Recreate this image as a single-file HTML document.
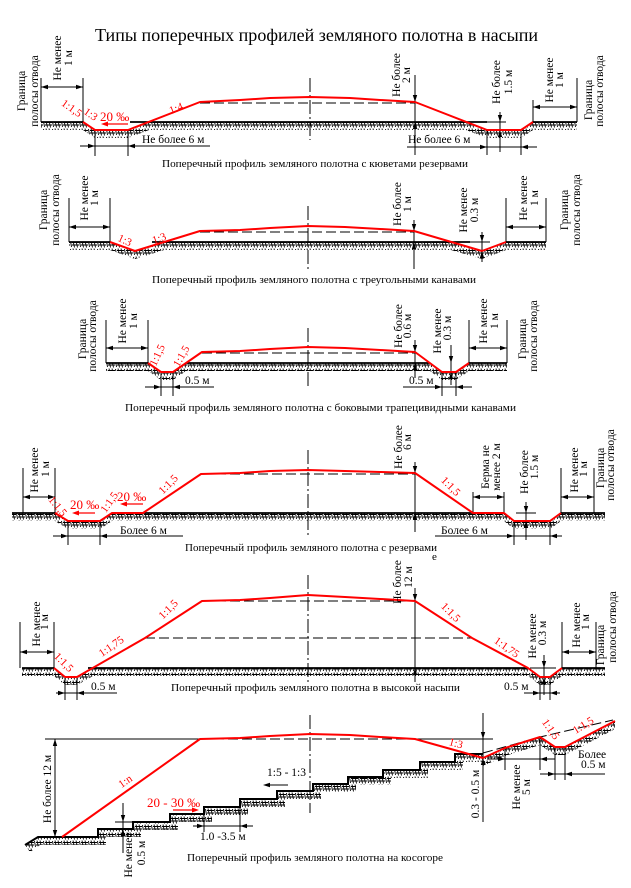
<!DOCTYPE html>
<html><head><meta charset="utf-8"><style>
html,body{margin:0;padding:0;background:#fff}
svg{display:block}
text{font-family:"Liberation Serif","DejaVu Serif",serif;font-size:11.5px;fill:#000}
.r{fill:#f00;font-size:11px}
.p{fill:#f00;font-size:13px}
.c{font-size:11px}
.k{stroke:#000;stroke-width:1;fill:none}
.g{stroke:#000;stroke-width:1.8;fill:none}
.rd{stroke:#f00;stroke-width:2;fill:none;stroke-linejoin:round}
.rl{stroke:#f00;stroke-width:1.2;fill:none}
.d{stroke:#000;stroke-width:1;fill:none;stroke-dasharray:10 4}
.cl{stroke:#000;stroke-width:1;fill:none;stroke-dasharray:14 3 2 3}
.h{fill:url(#h);stroke:none}
</style></head><body>
<svg width="631" height="888" viewBox="0 0 631 888" xmlns="http://www.w3.org/2000/svg">
<defs>
<pattern id="h" width="9" height="8" patternUnits="userSpaceOnUse"><path d="M1,0.5 L2.5,7.5 M4,0.5 L5.5,7.5 M0,2.5 H7 M0,5 H7 M7.5,1 L8.5,7" stroke="#000" stroke-width="0.9" fill="none"/></pattern>
<path id="a" d="M0,0 L-7,-2.2 L-7,2.2 Z" fill="#000"/>
<path id="ar" d="M0,0 L-7,-2.5 L-7,2.5 Z" fill="#f00"/>
</defs>
<rect width="631" height="888" fill="#fff"/>

<text x="95" y="41" style="font-size:18px" textLength="443" lengthAdjust="spacingAndGlyphs">Типы поперечных профилей земляного полотна в насыпи</text>

<!-- SECTION 1 -->
<polygon class="h" points="41,122 83,122 95,130 128,130 149,122 466,122 487,130 521,130 533,122 577,122 577,130 533,130 521,138 487,138 466,130 149,130 128,138 95,138 83,130 41,130"/>
<path class="g" d="M41,122H83M130,122H487M533,122H577"/>
<path class="k" d="M41,78V122M83,78V122M533,100V122M577,78V122M41,87H83M533,107H577M80,146H210M95,130V156M128,130V156M407,147H537M487,130V155M521,130V155M415,75V155M500,112V152M484,122H506"/>
<path class="d" d="M200,103H415"/>
<path class="cl" d="M310,78V140"/>
<polyline class="rd" points="83,122 95,130 128,130 200,102 240,100 270,98 310,97 350,98 380,100 415,102 487,130 521,130 533,122"/>
<use href="#a" transform="translate(41 87) rotate(180)"/><use href="#a" transform="translate(83 87)"/>
<use href="#a" transform="translate(533 107) rotate(180)"/><use href="#a" transform="translate(577 107)"/>
<use href="#a" transform="translate(95 146)"/><use href="#a" transform="translate(128 146) rotate(180)"/>
<use href="#a" transform="translate(487 147)"/><use href="#a" transform="translate(521 147) rotate(180)"/>
<use href="#a" transform="translate(415 102) rotate(90)"/><use href="#a" transform="translate(415 122) rotate(-90)"/>
<use href="#a" transform="translate(500 122) rotate(90)"/><use href="#a" transform="translate(500 130) rotate(-90)"/>
<text transform="translate(25 91) rotate(-90)" text-anchor="middle">Граница</text>
<text transform="translate(38 91) rotate(-90)" text-anchor="middle">полосы отвода</text>
<text transform="translate(61 58) rotate(-90)" text-anchor="middle">Не менее</text>
<text transform="translate(72 58) rotate(-90)" text-anchor="middle">1 м</text>
<text transform="translate(400 75) rotate(-90)" text-anchor="middle">Не более</text>
<text transform="translate(410 75) rotate(-90)" text-anchor="middle">2 м</text>
<text transform="translate(500 82) rotate(-90)" text-anchor="middle">Не более</text>
<text transform="translate(512 82) rotate(-90)" text-anchor="middle">1.5 м</text>
<text transform="translate(553 80) rotate(-90)" text-anchor="middle">Не менее</text>
<text transform="translate(563 80) rotate(-90)" text-anchor="middle">1 м</text>
<text transform="translate(592 100) rotate(-90)" text-anchor="middle">Граница</text>
<text transform="translate(603 91) rotate(-90)" text-anchor="middle">полосы отвода</text>
<text x="142" y="143">Не более 6 м</text>
<text x="408" y="143">Не более 6 м</text>
<text class="r" transform="translate(72 108) rotate(35)" text-anchor="middle" dy="0.35em">1:1,5</text>
<text class="r" transform="translate(91 114) rotate(35)" text-anchor="middle" dy="0.35em">1:3</text>
<text class="p" x="100" y="121">20 ‰</text>
<path class="rl" d="M104,124H128"/><use href="#ar" transform="translate(101 124) rotate(180)"/>
<text class="r" transform="translate(176 108) rotate(-22)" text-anchor="middle" dy="0.35em">1:4</text>
<text class="c" x="162" y="167" textLength="306" lengthAdjust="spacingAndGlyphs">Поперечный профиль земляного полотна с кюветами резервами</text>

<!-- SECTION 2 -->
<polygon class="h" points="69,242 110,242 135,251 164,242 451,242 482,251 506,242 546,242 546,250 506,250 482,259 451,250 164,250 135,259 110,250 69,250"/>
<path class="g" d="M69,242H110M152,242H470M506,242H546"/>
<path class="k" d="M69,198V242M110,198V242M506,198V242M546,198V242M69,227H110M506,227H546M414,220V269M482,232V262M466,242H490"/>
<path class="d" d="M200,232H414"/>
<path class="cl" d="M308,206V269"/>
<polyline class="rd" points="110,242 135,251 200,231 240,230 270,228 308,226 345,227 380,229 414,231 482,251 506,242"/>
<use href="#a" transform="translate(69 227) rotate(180)"/><use href="#a" transform="translate(110 227)"/>
<use href="#a" transform="translate(506 227) rotate(180)"/><use href="#a" transform="translate(546 227)"/>
<use href="#a" transform="translate(414 231) rotate(90)"/><use href="#a" transform="translate(414 242) rotate(-90)"/>
<use href="#a" transform="translate(482 242) rotate(90)"/><use href="#a" transform="translate(482 251) rotate(-90)"/>
<text transform="translate(47 210) rotate(-90)" text-anchor="middle">Граница</text>
<text transform="translate(59 210) rotate(-90)" text-anchor="middle">полосы отвода</text>
<text transform="translate(88 198) rotate(-90)" text-anchor="middle">Не менее</text>
<text transform="translate(98 198) rotate(-90)" text-anchor="middle">1 м</text>
<text transform="translate(401 204) rotate(-90)" text-anchor="middle">Не более</text>
<text transform="translate(411 204) rotate(-90)" text-anchor="middle">1 м</text>
<text transform="translate(467 210) rotate(-90)" text-anchor="middle">Не менее</text>
<text transform="translate(478 210) rotate(-90)" text-anchor="middle">0.3 м</text>
<text transform="translate(527 198) rotate(-90)" text-anchor="middle">Не менее</text>
<text transform="translate(538 198) rotate(-90)" text-anchor="middle">1 м</text>
<text transform="translate(568 210) rotate(-90)" text-anchor="middle">Граница</text>
<text transform="translate(580 210) rotate(-90)" text-anchor="middle">полосы отвода</text>
<text class="r" transform="translate(125 240) rotate(25)" text-anchor="middle" dy="0.35em">1:3</text>
<text class="r" transform="translate(159 238) rotate(-20)" text-anchor="middle" dy="0.35em">1:3</text>
<text class="c" x="152" y="283" textLength="324" lengthAdjust="spacingAndGlyphs">Поперечный профиль земляного полотна с треугольными канавами</text>

<!-- SECTION 3 -->
<polygon class="h" points="106,363 148,363 161,372 173,372 186,363 430,363 442,372 456,372 469,363 507,363 507,371 469,371 456,380 442,380 430,371 186,371 173,380 161,380 148,371 106,371"/>
<path class="g" d="M106,363H148M186,363H430M469,363H507"/>
<path class="k" d="M106,320V363M148,320V363M469,320V363M507,320V363M106,348H148M469,348H507M415,340V378M451,345V385M145,387H214M161,372V396M173,372V396M403,387H472M442,372V396M456,372V396"/>
<path class="d" d="M202,353H415"/>
<path class="cl" d="M308,328V389"/>
<polyline class="rd" points="148,363 161,372 173,372 202,352 240,351 270,349 308,347 345,348 380,350 415,352 442,372 456,372 469,363"/>
<use href="#a" transform="translate(106 348) rotate(180)"/><use href="#a" transform="translate(148 348)"/>
<use href="#a" transform="translate(469 348) rotate(180)"/><use href="#a" transform="translate(507 348)"/>
<use href="#a" transform="translate(415 352) rotate(90)"/><use href="#a" transform="translate(415 363) rotate(-90)"/>
<use href="#a" transform="translate(451 363) rotate(90)"/><use href="#a" transform="translate(451 372) rotate(-90)"/>
<use href="#a" transform="translate(161 387)"/><use href="#a" transform="translate(173 387) rotate(180)"/>
<use href="#a" transform="translate(442 387)"/><use href="#a" transform="translate(456 387) rotate(180)"/>
<text transform="translate(86 339) rotate(-90)" text-anchor="middle">Граница</text>
<text transform="translate(96 336) rotate(-90)" text-anchor="middle">полосы отвода</text>
<text transform="translate(126 321) rotate(-90)" text-anchor="middle">Не менее</text>
<text transform="translate(137 321) rotate(-90)" text-anchor="middle">1 м</text>
<text transform="translate(402 326) rotate(-90)" text-anchor="middle">Не более</text>
<text transform="translate(411 326) rotate(-90)" text-anchor="middle">0.6 м</text>
<text transform="translate(441 331) rotate(-90)" text-anchor="middle">Не менее</text>
<text transform="translate(451 328) rotate(-90)" text-anchor="middle">0.3 м</text>
<text transform="translate(487 321) rotate(-90)" text-anchor="middle">Не менее</text>
<text transform="translate(498 321) rotate(-90)" text-anchor="middle">1 м</text>
<text transform="translate(526 339) rotate(-90)" text-anchor="middle">Граница</text>
<text transform="translate(537 336) rotate(-90)" text-anchor="middle">полосы отвода</text>
<text x="185" y="384">0.5 м</text>
<text x="409" y="384">0.5 м</text>
<text class="r" transform="translate(157 355) rotate(-65)" text-anchor="middle" dy="0.35em">1:1,5</text>
<text class="r" transform="translate(181 356) rotate(-60)" text-anchor="middle" dy="0.35em">1:1,5</text>
<text class="c" x="125" y="411" textLength="391" lengthAdjust="spacingAndGlyphs">Поперечный профиль земляного полотна с боковыми трапецивидными канавами</text>

<!-- SECTION 4 -->
<polygon class="h" points="12,513 55,513 68,521 100,521 112,513 504,513 514,521 550,521 561,513 605,513 605,521 561,521 550,529 514,529 504,521 112,521 100,529 68,529 55,521 12,521"/>
<path class="g" d="M12,513H55M112,513H504M561,513H605"/>
<path class="k" d="M23,468V513M55,468V513M561,468V513M594,468V513M23,497H55M561,497H594M473,492V513M504,492V513M473,497H504M415,462V532M526,502V540M516,513H536M53,536H183M68,521V545M100,521V545M435,536H562M514,521V545M550,521V545"/>
<path class="d" d="M202,474H415"/>
<path class="cl" d="M308,450V538"/>
<polyline class="rd" points="55,513 68,521 100,521 112,513 143,513 201,474 240,473 270,471 308,470 345,471 380,472 415,473 473,513 504,513 514,521 550,521 561,513"/>
<use href="#a" transform="translate(23 497) rotate(180)"/><use href="#a" transform="translate(55 497)"/>
<use href="#a" transform="translate(561 497) rotate(180)"/><use href="#a" transform="translate(594 497)"/>
<use href="#a" transform="translate(473 497) rotate(180)"/><use href="#a" transform="translate(504 497)"/>
<use href="#a" transform="translate(415 473) rotate(90)"/><use href="#a" transform="translate(415 513) rotate(-90)"/>
<use href="#a" transform="translate(526 513) rotate(90)"/><use href="#a" transform="translate(526 521) rotate(-90)"/>
<use href="#a" transform="translate(68 536)"/><use href="#a" transform="translate(100 536) rotate(180)"/>
<use href="#a" transform="translate(514 536)"/><use href="#a" transform="translate(550 536) rotate(180)"/>
<text transform="translate(38 470) rotate(-90)" text-anchor="middle">Не менее</text>
<text transform="translate(49 469) rotate(-90)" text-anchor="middle">1 м</text>
<text transform="translate(402 447) rotate(-90)" text-anchor="middle">Не более</text>
<text transform="translate(411 442) rotate(-90)" text-anchor="middle">6 м</text>
<text transform="translate(489 467) rotate(-90)" text-anchor="middle">Берма не</text>
<text transform="translate(500 467) rotate(-90)" text-anchor="middle">менее 2 м</text>
<text transform="translate(528 472) rotate(-90)" text-anchor="middle">Не более</text>
<text transform="translate(538 467) rotate(-90)" text-anchor="middle">1.5 м</text>
<text transform="translate(578 470) rotate(-90)" text-anchor="middle">Не менее</text>
<text transform="translate(587 469) rotate(-90)" text-anchor="middle">1 м</text>
<text transform="translate(604 468) rotate(-90)" text-anchor="middle">Граница</text>
<text transform="translate(614 465) rotate(-90)" text-anchor="middle">полосы отвода</text>
<text x="120" y="534">Более 6 м</text>
<text x="441" y="534">Более 6 м</text>
<text class="r" transform="translate(58 506) rotate(50)" text-anchor="middle" dy="0.35em">1:1,5</text>
<text class="p" x="70" y="509">20 ‰</text>
<path class="rl" d="M75,513H95"/><use href="#ar" transform="translate(72 513) rotate(180)"/>
<text class="r" transform="translate(109 502) rotate(-55)" text-anchor="middle" dy="0.35em">1:1,5</text>
<text class="p" x="117" y="501">20 ‰</text>
<path class="rl" d="M123,504H143"/><use href="#ar" transform="translate(120 504) rotate(180)"/>
<text class="r" transform="translate(168 484) rotate(-45)" text-anchor="middle" dy="0.35em">1:1,5</text>
<text class="r" transform="translate(451 486) rotate(45)" text-anchor="middle" dy="0.35em">1:1,5</text>
<text class="c" x="185" y="551" textLength="252" lengthAdjust="spacingAndGlyphs">Поперечный профиль земляного полотна с резервами</text>
<text class="c" x="432" y="560">е</text>

<!-- SECTION 5 -->
<polygon class="h" points="22,668 54,668 65,677 77,677 93,668 528,668 540,677 550,677 562,668 605,668 605,676 562,676 550,685 540,685 528,676 93,676 77,685 65,685 54,676 22,676"/>
<path class="g" d="M22,668H54M88,668H528M562,668H605"/>
<path class="k" d="M20,622V668M54,622V668M562,622V668M596,622V668M20,652H54M562,652H596M415,588V682M544,655V695M530,668H556M56,693H117M65,677V700M77,677V700M524,693H560M540,677V700M550,677V700"/>
<path class="d" d="M202,601H415M145,638H472"/>
<path class="cl" d="M308,575V682"/>
<polyline class="rd" points="54,668 65,677 77,677 145,638 202,601 240,600 270,598 308,595 345,597 380,599 415,601 472,638 528,668 540,677 550,677 562,668"/>
<use href="#a" transform="translate(20 652) rotate(180)"/><use href="#a" transform="translate(54 652)"/>
<use href="#a" transform="translate(562 652) rotate(180)"/><use href="#a" transform="translate(596 652)"/>
<use href="#a" transform="translate(415 601) rotate(90)"/><use href="#a" transform="translate(415 668) rotate(-90)"/>
<use href="#a" transform="translate(544 668) rotate(90)"/><use href="#a" transform="translate(544 677) rotate(-90)"/>
<use href="#a" transform="translate(65 693)"/><use href="#a" transform="translate(77 693) rotate(180)"/>
<use href="#a" transform="translate(540 693)"/><use href="#a" transform="translate(550 693) rotate(180)"/>
<text transform="translate(40 624) rotate(-90)" text-anchor="middle">Не менее</text>
<text transform="translate(48 622) rotate(-90)" text-anchor="middle">1 м</text>
<text transform="translate(401 582) rotate(-90)" text-anchor="middle">Не более</text>
<text transform="translate(412 577) rotate(-90)" text-anchor="middle">12 м</text>
<text transform="translate(536 636) rotate(-90)" text-anchor="middle">Не менее</text>
<text transform="translate(546 633) rotate(-90)" text-anchor="middle">0.3 м</text>
<text transform="translate(580 625) rotate(-90)" text-anchor="middle">Не менее</text>
<text transform="translate(589 622) rotate(-90)" text-anchor="middle">1 м</text>
<text transform="translate(604 645) rotate(-90)" text-anchor="middle">Граница</text>
<text transform="translate(616 627) rotate(-90)" text-anchor="middle">полосы отвода</text>
<text x="91" y="690">0.5 м</text>
<text x="504" y="690">0.5 м</text>
<text class="r" transform="translate(64 662) rotate(45)" text-anchor="middle" dy="0.35em">1:1,5</text>
<text class="r" transform="translate(111 646) rotate(-35)" text-anchor="middle" dy="0.35em">1:1,75</text>
<text class="r" transform="translate(168 609) rotate(-45)" text-anchor="middle" dy="0.35em">1:1,5</text>
<text class="r" transform="translate(451 612) rotate(45)" text-anchor="middle" dy="0.35em">1:1,5</text>
<text class="r" transform="translate(507 647) rotate(35)" text-anchor="middle" dy="0.35em">1:1,75</text>
<text class="c" x="171" y="691" textLength="289" lengthAdjust="spacingAndGlyphs">Поперечный профиль земляного полотна в высокой насыпи</text>

<!-- SECTION 6 -->
<path class="h" d="M25,845 L38,837 H98 V829 H133 V822 H170 V814 H204 V807 H240 V799 H277 V791 H313 V784 H348 V777 H383 V770 H420 V762 H455 V754 H483 V762 H463 V770 H428 V778 H391 V785 H356 V792 H321 V799 H285 V807 H248 V815 H212 V822 H178 V830 H141 V837 H106 V845 H40 L30,852 Z"/>
<polygon class="h" points="483,758 505,748 540,737 555,747 565,747 615,721 615,729 565,755 555,755 540,745 505,756 483,766"/>
<path class="g" style="stroke-width:2" d="M25,845 L38,837 H98 V829 H133 V822 H170 V814 H204 V807 H240 V799 H277 V791 H313 V784 H348 V777 H383 V770 H420 V762 H455 V754 H483"/>
<path class="k" d="M45,739H200M415,739H493M55,739V837M123,803V853M115,822H133M193,826H253M204,807V832M240,799V832M483,713V822M487,759H555M505,748V770M540,737V770M540,774H605M555,747V780M565,747V780"/>
<path class="d" d="M200,739H415M483,753L540,737L613,720"/>
<path class="cl" d="M310,715V813"/>
<polyline class="rd" points="62,837 200,739 240,738 270,736 310,734 350,735 380,737 415,739 483,758 505,748 540,737 555,747 565,747 615,721"/>
<use href="#a" transform="translate(55 739) rotate(-90)"/><use href="#a" transform="translate(55 837) rotate(90)"/>
<use href="#a" transform="translate(123 822) rotate(90)"/><use href="#a" transform="translate(123 829) rotate(-90)"/>
<use href="#a" transform="translate(204 826)"/><use href="#a" transform="translate(240 826) rotate(180)"/>
<use href="#a" transform="translate(483 739) rotate(90)"/><use href="#a" transform="translate(483 758) rotate(-90)"/>
<use href="#a" transform="translate(505 759)"/><use href="#a" transform="translate(540 759) rotate(180)"/>
<use href="#a" transform="translate(555 774)"/><use href="#a" transform="translate(565 774) rotate(180)"/>
<text transform="translate(51 789) rotate(-90)" text-anchor="middle">Не более 12 м</text>
<text transform="translate(132 855) rotate(-90)" text-anchor="middle">Не менее</text>
<text transform="translate(145 853) rotate(-90)" text-anchor="middle">0.5 м</text>
<text transform="translate(479 794) rotate(-90)" text-anchor="middle">0.3 - 0.5 м</text>
<text transform="translate(520 787) rotate(-90)" text-anchor="middle">Не менее</text>
<text transform="translate(530 787) rotate(-90)" text-anchor="middle">5 м</text>
<text x="578" y="758">Более</text>
<text x="581" y="768">0.5 м</text>
<text x="267" y="776">1:5 - 1:3</text>
<path class="k" d="M266,785H288"/><use href="#a" transform="translate(263 785) rotate(180)"/>
<text class="p" x="147" y="807">20 - 30 ‰</text>
<path class="rl" d="M173,810H196"/><use href="#ar" transform="translate(199 810)"/>
<text x="200" y="840">1.0 -3.5 м</text>
<text class="r" transform="translate(125 781) rotate(-35)" text-anchor="middle" dy="0.35em">1:n</text>
<text class="r" transform="translate(456 743) rotate(15)" text-anchor="middle" dy="0.35em">1:3</text>
<text class="r" transform="translate(551 729) rotate(55)" text-anchor="middle" dy="0.35em">1:1,5</text>
<text class="r" transform="translate(583 725) rotate(-32)" text-anchor="middle" dy="0.35em">1:1,5</text>
<text class="c" x="187" y="861" textLength="256" lengthAdjust="spacingAndGlyphs">Поперечный профиль земляного полотна на косогоре</text>
</svg>
</body></html>
